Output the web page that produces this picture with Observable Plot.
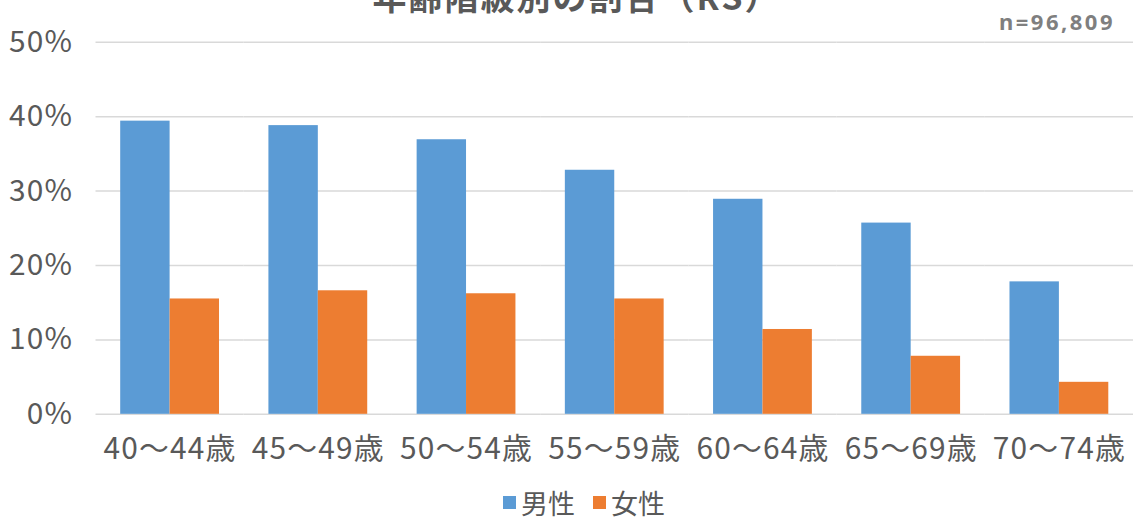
<!DOCTYPE html>
<html><head><meta charset="utf-8">
<script src="https://cdn.jsdelivr.net/npm/d3@7"></script>
<script src="https://cdn.jsdelivr.net/npm/@observablehq/plot@0.6"></script>
<style>
body{margin:0;background:#fff;font-family:"Noto Sans CJK JP","Noto Sans",sans-serif;overflow:hidden}
#wrap{position:relative;width:1133px;height:518px;overflow:hidden}
#title{position:absolute;top:-29px;left:10px;width:1133px;text-align:center;font-size:34px;font-weight:bold;color:#595959;white-space:nowrap;letter-spacing:2px}
#n{position:absolute;top:6px;right:18px;font-family:"Noto Sans",sans-serif;font-size:22px;line-height:30px;font-weight:bold;color:#7f7f7f;letter-spacing:2.5px}
#chart{position:absolute;top:0;left:0}
#legend{position:absolute;top:489px;left:503px;display:flex;align-items:center;font-size:27px;line-height:27px;color:#595959;white-space:nowrap}
#legend span.sw{display:inline-block;width:13px;height:13px;margin-right:5px}
#legend span.it{display:flex;align-items:center;margin-right:18px}
</style></head>
<body>
<div id="wrap">
  <div id="chart"></div>
  <div id="title">年齢階級別の割合（RS）</div>
  <div id="n">n=96,809</div>
  <div id="legend"></div>
</div>
<script>
const ages = ["40～44歳","45～49歳","50～54歳","55～59歳","60～64歳","65～69歳","70～74歳"];
const sexes = ["男性","女性"];
const male = [39.4, 38.8, 36.9, 32.8, 28.9, 25.7, 17.8];
const female = [15.5, 16.6, 16.2, 15.5, 11.4, 7.8, 4.3];
const colors = ["#5B9BD5", "#ED7D31"];
const yTicks = [0, 10, 20, 30, 40, 50];

const data = [];
ages.forEach((a, i) => {
  data.push({age: a, sex: sexes[0], value: male[i]});
  data.push({age: a, sex: sexes[1], value: female[i]});
});

const chart = Plot.plot({
  width: 1139,
  height: 480,
  marginLeft: 96,
  marginRight: 0,
  marginTop: 42,
  marginBottom: 64,
  style: {fontFamily: '"Noto Sans CJK JP","Noto Sans",sans-serif', fontSize: "30px", color: "#595959", background: "transparent", letterSpacing: "1.2px"},
  fx: {domain: ages, padding: 0, round: false},
  x: {domain: sexes, paddingInner: 0, paddingOuter: 0.5, round: false, axis: null},
  y: {domain: [0, 50]},
  color: {domain: sexes, range: colors},
  marks: [
    Plot.ruleY(yTicks, {stroke: "#d9d9d9", strokeWidth: 1.5}),
    Plot.axisY(yTicks, {tickSize: 0, tickPadding: 23, tickFormat: d => d + "%", label: null, fontSize: 30}),
    Plot.axisFx({anchor: "bottom", tickSize: 0, tickPadding: 24, label: null, fontSize: 30}),
    Plot.barY(data, {fx: "age", x: "sex", y: "value", fill: "sex", inset: 0})
  ]
});
document.getElementById("chart").appendChild(chart);

const lg = document.getElementById("legend");
sexes.forEach((s, i) => {
  const it = document.createElement("span");
  it.className = "it";
  const sw = document.createElement("span");
  sw.className = "sw";
  sw.style.background = colors[i];
  it.appendChild(sw);
  it.appendChild(document.createTextNode(s));
  lg.appendChild(it);
});
</script>
</body></html>
